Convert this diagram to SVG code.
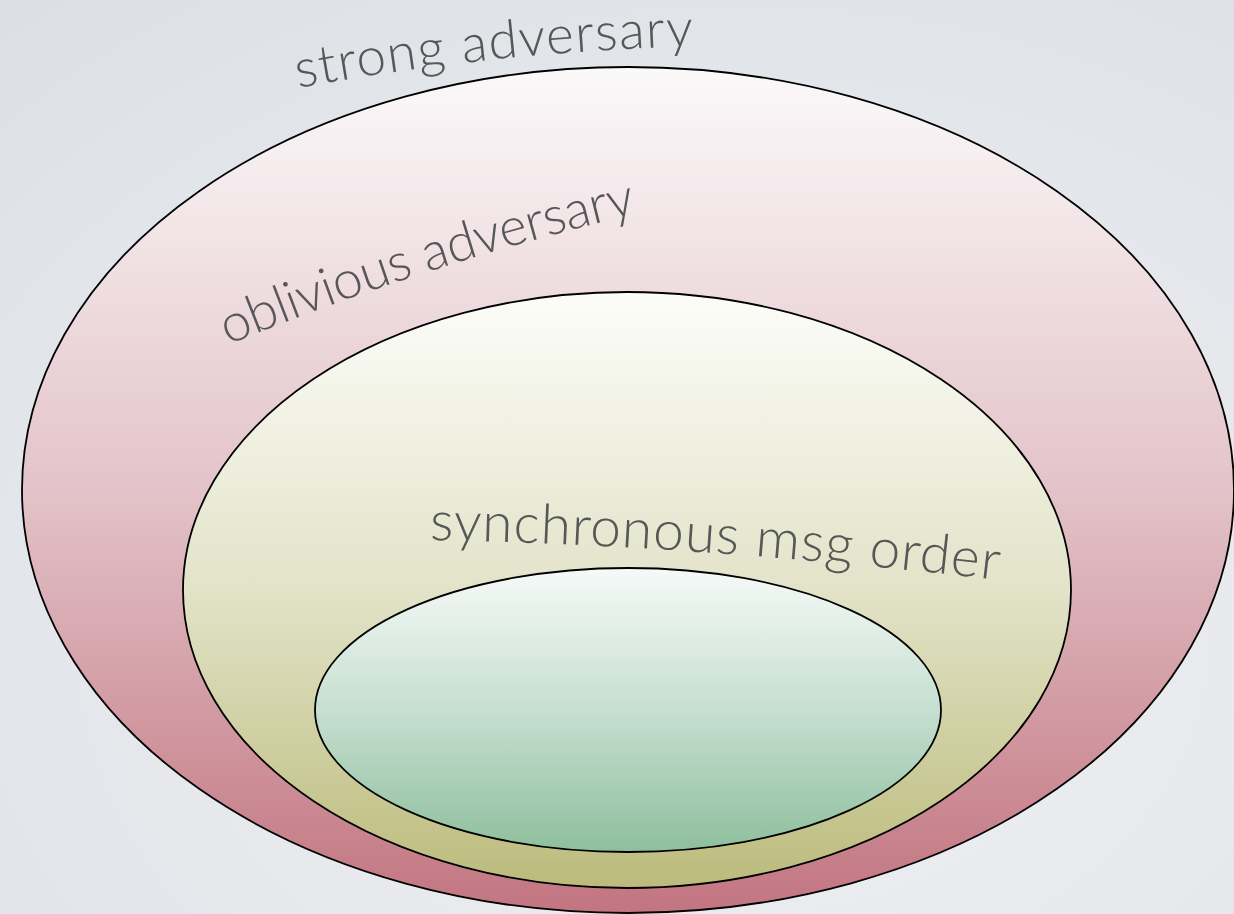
<svg xmlns="http://www.w3.org/2000/svg" xmlns:xlink="http://www.w3.org/1999/xlink" width="1234" height="914" viewBox="0 0 1234 914">
<defs>
<radialGradient id="bg" cx="0.6" cy="0.7" r="0.9">
<stop offset="0" stop-color="#f1f1f4"/>
<stop offset="1" stop-color="#dce0e5"/>
</radialGradient>
<linearGradient id="gOuter" x1="0" y1="0" x2="0" y2="1">
<stop offset="0" stop-color="#fbf9fa"/>
<stop offset="0.5" stop-color="#e3c3c9"/>
<stop offset="1" stop-color="#c27580"/>
</linearGradient>
<linearGradient id="gMid" x1="0" y1="0" x2="0" y2="1">
<stop offset="0" stop-color="#fcfdf9"/>
<stop offset="0.5" stop-color="#e2e3c8"/>
<stop offset="1" stop-color="#bcbb7c"/>
</linearGradient>
<linearGradient id="gInner" x1="0" y1="0" x2="0" y2="1">
<stop offset="0" stop-color="#f6faf8"/>
<stop offset="0.5" stop-color="#c6dfd0"/>
<stop offset="1" stop-color="#8ebf9d"/>
</linearGradient>
<path id="pStrong" d="M 298 88 Q 490 52 698 46"/>
<path id="pObl" d="M 228 345 Q 430 262 640 213"/>
<path id="pSync" d="M 430 540 Q 700 545 998 580"/>
</defs>
<style>
.ring{stroke:#000;stroke-width:1.8}
.lbl{font-family:Lato,"Open Sans",sans-serif;font-weight:300;fill:#575757;font-size:53px}
</style>
<rect width="1234" height="914" fill="url(#bg)"/>
<g id="strong">
<ellipse class="ring" cx="628" cy="490" rx="606" ry="423" fill="url(#gOuter)"/>
<text class="lbl"><textPath xlink:href="#pStrong" textLength="398">strong adversary</textPath></text>
</g>
<g id="oblivious">
<ellipse class="ring" cx="627" cy="590" rx="444" ry="298" fill="url(#gMid)"/>
<text class="lbl"><textPath xlink:href="#pObl" textLength="430">oblivious adversary</textPath></text>
</g>
<g id="synchronous">
<ellipse class="ring" cx="628" cy="710" rx="313" ry="142" fill="url(#gInner)"/>
<text class="lbl" style="font-size:55px"><textPath xlink:href="#pSync" textLength="570">synchronous msg order</textPath></text>
</g>
</svg>
